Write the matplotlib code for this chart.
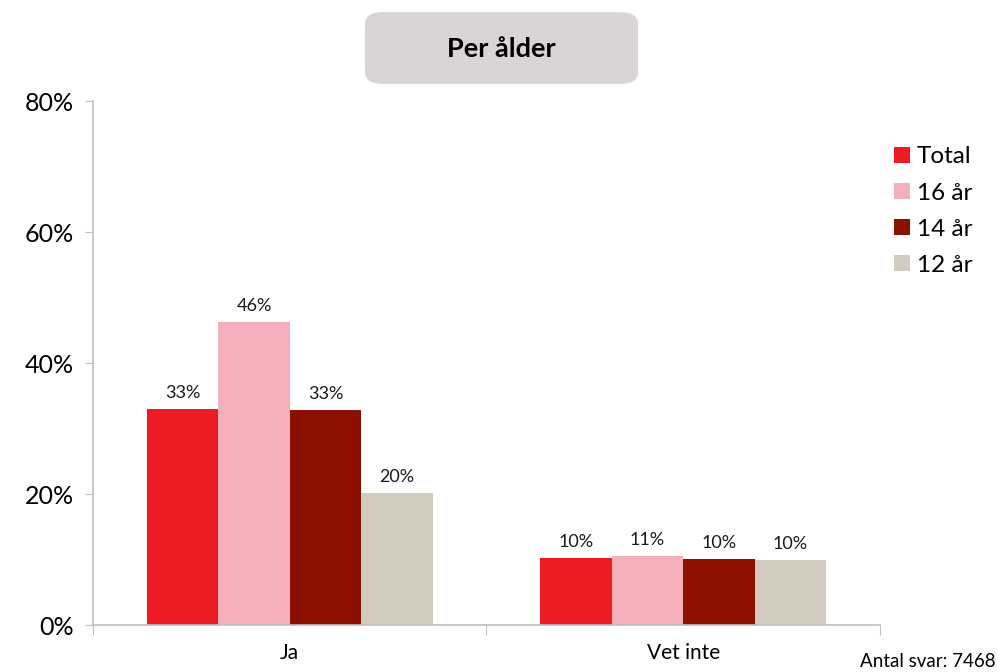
import numpy as np
import matplotlib.pyplot as plt
from matplotlib.patches import FancyBboxPatch
from matplotlib.ticker import FixedLocator, PercentFormatter

plt.rcParams['font.family'] = ['Lato', 'DejaVu Sans']

categories = ["Ja", "Vet inte"]
series = ["Total", "16 år", "14 år", "12 år"]
values = {
    "Total": [33.0, 10.2],
    "16 år": [46.3, 10.6],
    "14 år": [32.8, 10.1],
    "12 år": [20.2, 10.0],
}
labels = {
    "Total": ["33%", "10%"],
    "16 år": ["46%", "11%"],
    "14 år": ["33%", "10%"],
    "12 år": ["20%", "10%"],
}
colors = ["#ED1C24", "#F4B0BA", "#8B1000", "#D3CBBE"]

fig = plt.figure(figsize=(9.97, 6.72), dpi=100)
ax = fig.add_axes([0.0933, 0.0699, 0.7893, 0.7798])

x = np.arange(len(categories))
width = 0.1815
for i, (name, col) in enumerate(zip(series, colors)):
    pos = x + (i - 1.5) * width
    bars = ax.bar(pos, values[name], width, color=col, label=name)
    for b, txt in zip(bars, labels[name]):
        ax.text(b.get_x() + b.get_width() / 2, b.get_height() + 1.2, txt,
                ha='center', va='bottom', fontsize=13, color='#1a1a1a')

ax.set_xlim(-0.5, 1.5)
ax.set_ylim(0, 80)
ax.set_yticks([0, 20, 40, 60, 80])
ax.yaxis.set_major_formatter(PercentFormatter(decimals=0))

# category boundaries as ticks, labels centred between them
ax.xaxis.set_major_locator(FixedLocator([-0.5, 0.5, 1.5]))
ax.xaxis.set_minor_locator(FixedLocator(x))
ax.set_xticklabels([])
ax.set_xticklabels(categories, minor=True)
ax.tick_params(axis='x', which='major', length=7, color='#BFBFBF')
ax.tick_params(axis='x', which='minor', length=0, labelsize=15, pad=13)
ax.tick_params(axis='y', length=6, color='#BFBFBF', labelsize=18, pad=8)

for s in ['top', 'right']:
    ax.spines[s].set_visible(False)
for s in ['left', 'bottom']:
    ax.spines[s].set_color('#BFBFBF')
    ax.spines[s].set_linewidth(1.2)

ax.legend(loc='upper left', bbox_to_anchor=(0.99, 0.955), frameon=False,
          fontsize=17.5, handlelength=0.65, handleheight=0.65,
          handletextpad=0.3, labelspacing=0.62)

# title box
box = FancyBboxPatch((0.366, 0.875), 0.274, 0.107,
                     boxstyle="round,pad=0,rounding_size=0.018",
                     transform=fig.transFigure, facecolor='#D9D5D5',
                     edgecolor='none')
fig.patches.append(box)
fig.text(0.503, 0.927, "Per ålder", ha='center', va='center',
         fontsize=19.5, fontweight='bold')

fig.text(0.999, 0.003, "Antal svar: 7468", ha='right', va='bottom', fontsize=13.5)

fig.savefig("out.png", dpi=100)
